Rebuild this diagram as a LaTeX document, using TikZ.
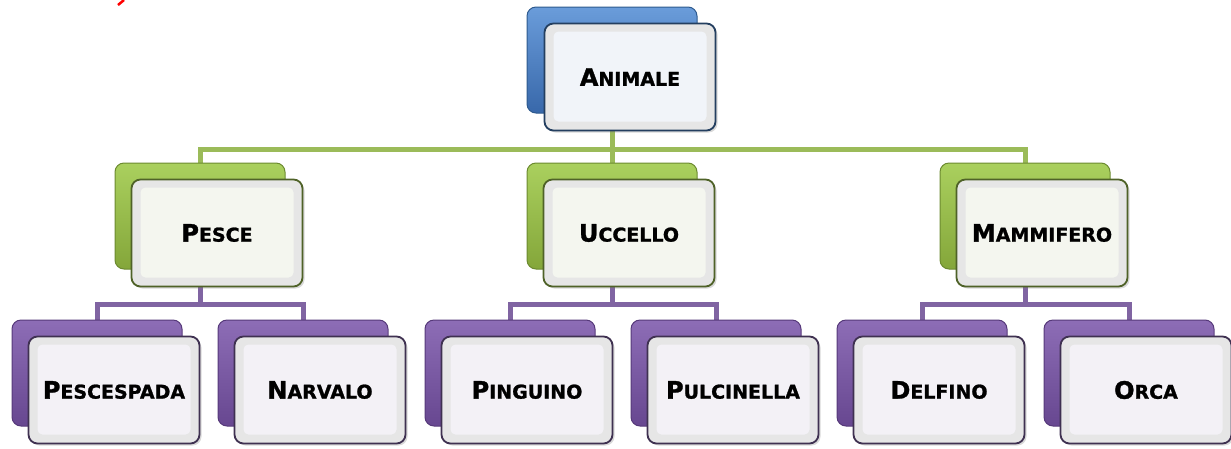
\documentclass[tikz,border=0pt]{standalone}
\usepackage{fontspec}
\setmainfont{DejaVu Sans}[BoldFeatures={FakeBold=1.3}]
\usetikzlibrary{shadows, backgrounds}

\definecolor{blueTop}{HTML}{6A9CDA}
\definecolor{blueBot}{HTML}{3868AA}
\definecolor{blueEdge}{HTML}{2E5A8E}
\definecolor{blueDark}{HTML}{243F60}
\definecolor{blueFace}{HTML}{F1F4F9}
\definecolor{greenTop}{HTML}{AAD05E}
\definecolor{greenBot}{HTML}{84A63A}
\definecolor{greenEdge}{HTML}{6C8A30}
\definecolor{greenDark}{HTML}{4F6228}
\definecolor{greenFace}{HTML}{F4F6EF}
\definecolor{greenLine}{HTML}{9BBB59}
\definecolor{purpleTop}{HTML}{8D6DB6}
\definecolor{purpleBot}{HTML}{674790}
\definecolor{purpleEdge}{HTML}{56397A}
\definecolor{purpleDark}{HTML}{3F3151}
\definecolor{purpleFace}{HTML}{F3F1F6}
\definecolor{purpleLine}{HTML}{8064A2}
\definecolor{bevelGray}{HTML}{E6E6E6}

% capital letter followed by small capitals
\newcommand{\capWord}[2]{{\fontsize{24}{27}\selectfont #1}{\fontsize{19}{22}\selectfont #2}}

\begin{document}
\begin{tikzpicture}[x=1pt, y=-1pt]
	\useasboundingbox (0,0) rectangle (1231,448);
	\tikzstyle{back} = [rectangle, rounded corners=9pt, minimum width=170pt, 
	minimum height=106pt, line width=1pt, inner sep=0pt]
	\tikzstyle{blueBack} = [back, top color=blueTop, bottom color=blueBot, draw=blueEdge]
	\tikzstyle{greenBack} = [back, top color=greenTop, bottom color=greenBot, draw=greenEdge]
	\tikzstyle{purpleBack} = [back, top color=purpleTop, bottom color=purpleBot, draw=purpleEdge]
	\tikzstyle{front} = [rectangle, rounded corners=9pt, minimum width=171pt, 
	minimum height=107pt, line width=1.8pt, inner sep=0pt, text centered, 
	font=\bfseries, fill=bevelGray, 
	drop shadow={opacity=.3, shadow xshift=2pt, shadow yshift=-2pt}]
	\tikzstyle{blueFront} = [front, draw=blueDark, path picture={\fill[blueFace, 
	rounded corners=5pt] ([shift={(9pt,-8pt)}]path picture bounding box.north west) 
	rectangle ([shift={(-9pt,9pt)}]path picture bounding box.south east);}]
	\tikzstyle{greenFront} = [front, draw=greenDark, path picture={\fill[greenFace, 
	rounded corners=5pt] ([shift={(9pt,-8pt)}]path picture bounding box.north west) 
	rectangle ([shift={(-9pt,9pt)}]path picture bounding box.south east);}]
	\tikzstyle{purpleFront} = [front, draw=purpleDark, path picture={\fill[purpleFace, 
	rounded corners=5pt] ([shift={(9pt,-8pt)}]path picture bounding box.north west) 
	rectangle ([shift={(-9pt,9pt)}]path picture bounding box.south east);}]
	\tikzstyle{greenLink} = [line width=5pt, draw=greenLine]
	\tikzstyle{purpleLink} = [line width=5pt, draw=purpleLine]
	% tail of a red letter cut by the top edge
	\coordinate (tailTop) at (124,0);
	\coordinate (tailEnd) at (118,5);
	\draw [red, line width=2.5pt] (tailTop) -- (tailEnd);
	% root
	\node (animaleBack) [blueBack] at (612,60) {};
	\node (animale) [blueFront, at=(animaleBack), xshift=18pt, yshift=-17pt] {\capWord{A}{NIMALE}};
	% second level
	\node (pesceBack) [greenBack] at (200,216) {};
	\node (pesce) [greenFront, at=(pesceBack), xshift=17pt, yshift=-17pt] {\capWord{P}{ESCE}};
	\node (uccelloBack) [greenBack] at (612,216) {};
	\node (uccello) [greenFront, at=(uccelloBack), xshift=17pt, yshift=-17pt] {\capWord{U}{CCELLO}};
	\node (mammiferoBack) [greenBack] at (1025,216) {};
	\node (mammifero) [greenFront, at=(mammiferoBack), xshift=17pt, yshift=-17pt] {\capWord{M}{AMMIFERO}};
	% third level
	\node (pescespadaBack) [purpleBack] at (97,373) {};
	\node (pescespada) [purpleFront, at=(pescespadaBack), xshift=17pt, yshift=-17pt] {\capWord{P}{ESCESPADA}};
	\node (narvaloBack) [purpleBack] at (303,373) {};
	\node (narvalo) [purpleFront, at=(narvaloBack), xshift=17pt, yshift=-17pt] {\capWord{N}{ARVALO}};
	\node (pinguinoBack) [purpleBack] at (510,373) {};
	\node (pinguino) [purpleFront, at=(pinguinoBack), xshift=17pt, yshift=-17pt] {\capWord{P}{INGUINO}};
	\node (pulcinellaBack) [purpleBack] at (716,373) {};
	\node (pulcinella) [purpleFront, at=(pulcinellaBack), xshift=17pt, yshift=-17pt] {\capWord{P}{ULCINELLA}};
	\node (delfinoBack) [purpleBack] at (922,373) {};
	\node (delfino) [purpleFront, at=(delfinoBack), xshift=17pt, yshift=-17pt] {\capWord{D}{ELFINO}};
	\node (orcaBack) [purpleBack] at (1129,373) {};
	\node (orca) [purpleFront, at=(orcaBack), xshift=17pt, yshift=-17pt] {\capWord{O}{RCA}};
	% connectors behind the boxes
	\coordinate (greenBus) at (612,149);
	\coordinate (pesceBus) at (200,304);
	\coordinate (uccelloBus) at (612,304);
	\coordinate (mammiferoBus) at (1025,304);
	\begin{scope}[on background layer]
	\draw [greenLink] (animaleBack) -- (uccelloBack);
	\draw [greenLink] (pesceBack) |- (greenBus) -| (mammiferoBack);
	\draw [purpleLink] (pesceBack) -- (pesceBus);
	\draw [purpleLink] (pescespadaBack) |- (pesceBus) -| (narvaloBack);
	\draw [purpleLink] (uccelloBack) -- (uccelloBus);
	\draw [purpleLink] (pinguinoBack) |- (uccelloBus) -| (pulcinellaBack);
	\draw [purpleLink] (mammiferoBack) -- (mammiferoBus);
	\draw [purpleLink] (delfinoBack) |- (mammiferoBus) -| (orcaBack);
	\end{scope}
\end{tikzpicture}
\end{document}
